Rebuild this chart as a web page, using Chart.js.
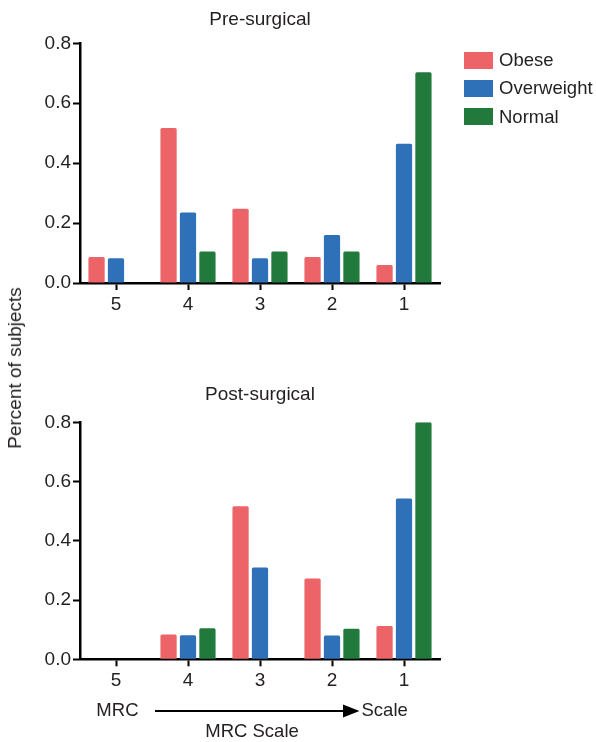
<!DOCTYPE html>
<html>
<head>
<meta charset="utf-8">
<script src="https://cdn.jsdelivr.net/npm/chart.js@4.4.1/dist/chart.umd.min.js"></script>
<style>
  body { margin: 0; background: #fff; font-family: "Liberation Sans", Arial, Helvetica, sans-serif; color: #231f20; }
  #wrap { position: relative; width: 596px; height: 742px; overflow: hidden; }
  canvas { position: absolute; left: 0; }
  #ylabel { position: absolute; left: 15px; top: 368px; transform: translate(-50%, -50%) rotate(-90deg); font-size: 19px; white-space: nowrap; }
  #legend { position: absolute; left: 464px; top: 46px; font-size: 18.5px; }
  #legend div { display: flex; align-items: center; height: 28.3px; }
  #legend span.box { display: inline-block; width: 29px; height: 17px; margin-right: 6px; }
</style>
</head>
<body>
<div id="wrap">
  <canvas id="pre" width="596" height="320" style="top:0"></canvas>
  <canvas id="post" width="596" height="382" style="top:360px"></canvas>
  <div id="ylabel">Percent of subjects</div>
  <div id="legend"></div>
</div>
<script>
// MRC scale categories, left to right
const categories = ['5', '4', '3', '2', '1'];
const seriesNames = ['Obese', 'Overweight', 'Normal'];
const seriesColors = ['#ec6467', '#2f71b8', '#217a3b'];
const yTicks = [0, 0.2, 0.4, 0.6, 0.8];

// Pre-surgical
const preObese = [0.087, 0.517, 0.248, 0.087, 0.06];
const preOverweight = [0.083, 0.235, 0.083, 0.16, 0.465];
const preNormal = [0, 0.105, 0.105, 0.105, 0.703];

// Post-surgical
const postObese = [0, 0.084, 0.517, 0.273, 0.112];
const postOverweight = [0, 0.081, 0.31, 0.08, 0.543];
const postNormal = [0, 0.105, 0, 0.103, 0.8];

const textColor = '#231f20';
Chart.defaults.font.family = '"Liberation Sans", Arial, Helvetica, sans-serif';
Chart.defaults.color = textColor;

function makeDatasets(a, b, c) {
  return [a, b, c].map(function(vals, i) {
    return {
      label: seriesNames[i],
      data: vals,
      backgroundColor: seriesColors[i],
      borderWidth: 0,
      borderRadius: 1.5,
      categoryPercentage: 0.81,
      barPercentage: 0.835
    };
  });
}

// draws "MRC ----> Scale" and the axis name under the lower chart
const arrowNote = {
  id: 'arrowNote',
  afterDraw(chart) {
    const ctx = chart.ctx;
    const y = 351;
    ctx.save();
    ctx.fillStyle = textColor;
    ctx.strokeStyle = '#000';
    ctx.font = '18.5px "Liberation Sans", Arial, Helvetica, sans-serif';
    ctx.textBaseline = 'middle';
    ctx.textAlign = 'right';
    ctx.fillText('MRC', 138.5, y);
    ctx.textAlign = 'left';
    ctx.fillText('Scale', 361.5, y);
    ctx.lineWidth = 2;
    ctx.beginPath();
    ctx.moveTo(155, y);
    ctx.lineTo(345, y);
    ctx.stroke();
    ctx.fillStyle = '#000';
    ctx.beginPath();
    ctx.moveTo(343, y - 6.5);
    ctx.lineTo(359.5, y);
    ctx.lineTo(343, y + 6.5);
    ctx.closePath();
    ctx.fill();
    ctx.fillStyle = textColor;
    ctx.textAlign = 'center';
    ctx.fillText('MRC Scale', 252, 371.5);
    ctx.restore();
  }
};

function makeChart(id, title, datasets, titlePad, xHeight, extraPlugins) {
  return new Chart(document.getElementById(id), {
    type: 'bar',
    data: { labels: categories, datasets: datasets },
    plugins: extraPlugins || [],
    options: {
      responsive: false,
      animation: false,
      layout: { padding: { left: 0, right: 156, top: 0, bottom: 0 } },
      plugins: {
        legend: { display: false },
        tooltip: { enabled: false },
        title: {
          display: true,
          text: title,
          fullSize: false,
          color: textColor,
          font: { size: 19, weight: 'normal' },
          padding: titlePad
        }
      },
      scales: {
        x: {
          grid: { display: true, drawOnChartArea: false, offset: false, tickLength: 7, tickWidth: 2, tickColor: '#000' },
          border: { display: true, color: '#000', width: 2.5 },
          ticks: { font: { size: 19 }, color: textColor, padding: 3 },
          afterFit(scale) { scale.height = xHeight; }
        },
        y: {
          min: 0,
          max: 0.8,
          afterBuildTicks(scale) { scale.ticks = yTicks.map(function(v) { return { value: v }; }); },
          grid: { display: true, drawOnChartArea: false, tickLength: 7, tickWidth: 2, tickColor: '#000' },
          border: { display: true, color: '#000', width: 2.5 },
          ticks: {
            font: { size: 19 },
            color: textColor,
            padding: 2,
            callback: function(v) { return Number(v).toFixed(1); }
          },
          afterFit(scale) { scale.width = 80; }
        }
      }
    }
  });
}

const preChart = makeChart('pre', 'Pre-surgical', makeDatasets(preObese, preOverweight, preNormal),
  { top: 8, bottom: 12.5 }, 37);
const postChart = makeChart('post', 'Post-surgical', makeDatasets(postObese, postOverweight, postNormal),
  { top: 23.6, bottom: 15.9 }, 82.7, [arrowNote]);

// html legend built from the first chart's datasets
const legendEl = document.getElementById('legend');
preChart.data.datasets.forEach(function(ds) {
  const row = document.createElement('div');
  row.innerHTML = '<span class="box" style="background:' + ds.backgroundColor + '"></span>' + ds.label;
  legendEl.appendChild(row);
});
</script>
</body>
</html>
